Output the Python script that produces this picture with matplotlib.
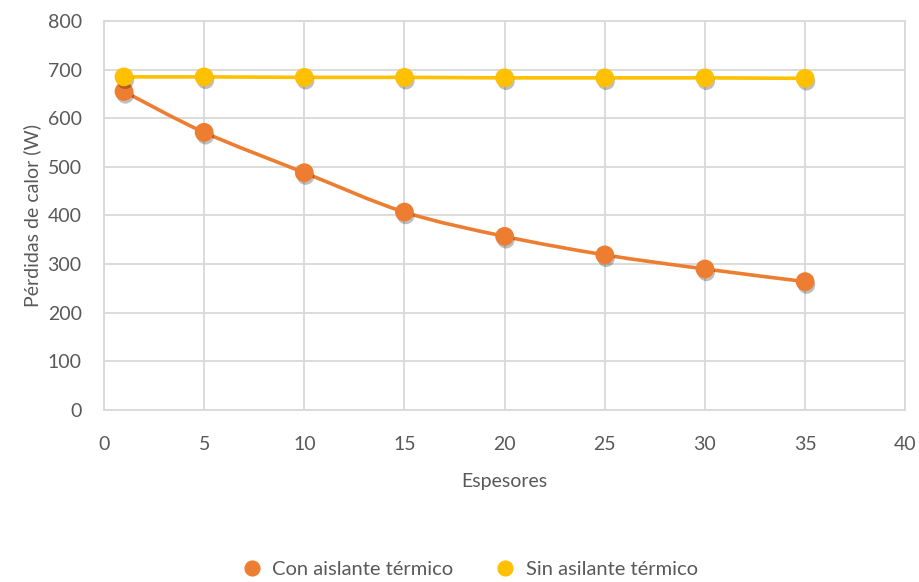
import numpy as np
import matplotlib
matplotlib.use("Agg")
import matplotlib.pyplot as plt
import matplotlib.patheffects as pe
from matplotlib.path import Path
from matplotlib.patches import PathPatch

plt.rcParams["font.family"] = ["Lato", "DejaVu Sans"]

espesores = [1, 5, 10, 15, 20, 25, 30, 35]
con_aislante = [655, 571, 488, 407, 357, 319, 290, 264]
sin_aislante = [685, 685, 684, 684, 683, 683, 683, 682]

ORANGE = "#ED7D31"
YELLOW = "#FFC000"
GRID = "#D9D9D9"
TEXT = "#595959"


def smooth_path(x, y):
    # curva suave tipo Excel (Bezier a partir de Catmull-Rom)
    x = np.asarray(x, float)
    y = np.asarray(y, float)
    pts = np.column_stack([x, y])
    verts = [pts[0]]
    codes = [Path.MOVETO]
    n = len(pts)
    for i in range(n - 1):
        p0 = pts[i - 1] if i > 0 else pts[i]
        p1 = pts[i]
        p2 = pts[i + 1]
        p3 = pts[i + 2] if i + 2 < n else pts[i + 1]
        c1 = p1 + (p2 - p0) / 6.0
        c2 = p2 - (p3 - p1) / 6.0
        verts += [c1, c2, p2]
        codes += [Path.CURVE4] * 3
    return Path(verts, codes)


fig = plt.figure(figsize=(9.2, 5.82), dpi=100)
ax = fig.add_axes([0.113, 0.2955, 0.871, 0.6685])

shadow = [pe.SimplePatchShadow(offset=(1, -2.5), shadow_rgbFace="black", alpha=0.25), pe.Normal()]

# línea suavizada
ax.add_patch(PathPatch(smooth_path(espesores, con_aislante), fill=False,
                       edgecolor=ORANGE, lw=2.6, zorder=3))
ax.plot(espesores, sin_aislante, color=YELLOW, lw=2.6, zorder=3)

ax.plot(espesores, con_aislante, ls="none", marker="o", ms=12.5, color=ORANGE,
        markeredgecolor=ORANGE, zorder=4, path_effects=shadow, label="Con aislante térmico")
ax.plot(espesores, sin_aislante, ls="none", marker="o", ms=12.5, color=YELLOW,
        markeredgecolor=YELLOW, zorder=5, path_effects=shadow, label="Sin asilante térmico")

ax.set_xlim(0, 40)
ax.set_ylim(0, 800)
ax.set_xticks(range(0, 41, 5))
ax.set_yticks(range(0, 801, 100))
ax.grid(True, color=GRID, lw=1.3)
ax.set_axisbelow(True)
for s in ax.spines.values():
    s.set_color(GRID)
    s.set_linewidth(1.3)
ax.tick_params(length=0, colors=TEXT, labelsize=14)
ax.tick_params(axis="x", pad=19)
ax.tick_params(axis="y", pad=16)

ax.set_xlabel("Espesores", fontsize=14, color=TEXT, labelpad=14)
ax.set_ylabel("Pérdidas de calor (W)", fontsize=14, color=TEXT, labelpad=5)

leg = fig.legend(loc="center", bbox_to_anchor=(0.505, 0.022), ncol=2, frameon=False,
                 fontsize=14.5, handletextpad=0.0, columnspacing=1.6, markerscale=0.85)
for t in leg.get_texts():
    t.set_color(TEXT)
for h in leg.legend_handles:
    h.set_path_effects([])

fig.savefig("out.png", dpi=100)
